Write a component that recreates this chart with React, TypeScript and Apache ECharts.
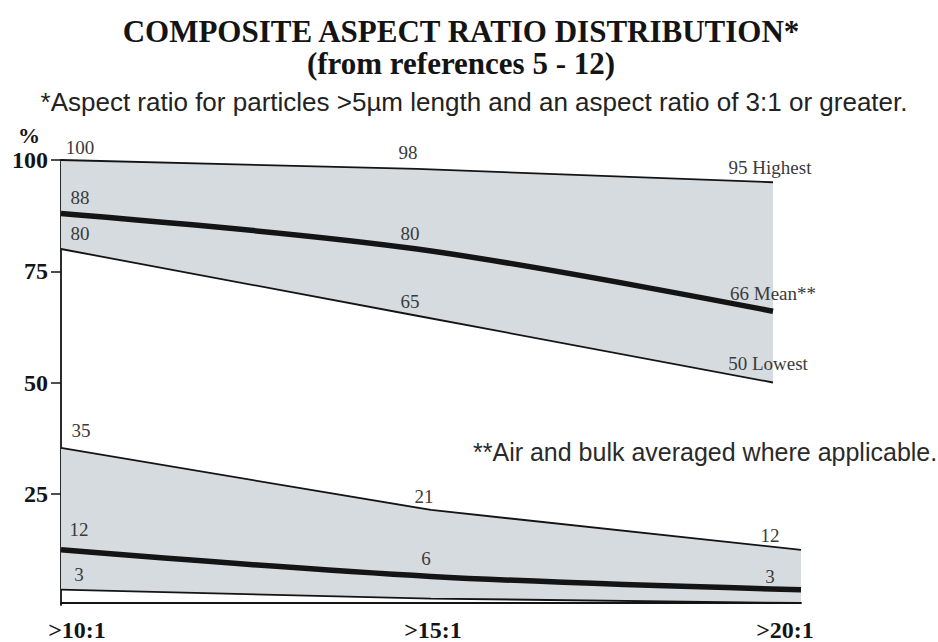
import React, { useEffect, useRef } from "react";
import * as echarts from "echarts";

const categories = [">10:1", ">15:1", ">20:1"];
const yTicks = [0, 25, 50, 75, 100];

const asbHighest = [100, 98, 95];
const asbMean = [88, 80, 66];
const asbLowest = [80, 65, 50];

const priHighest = [35, 21, 12];
const priMean = [12, 6, 3];
const priLowest = [3, 1, 0];

const asbHighestText = ["", "", " Highest"];
const asbMeanText = ["", "", " Mean**"];
const asbLowestText = ["", "", " Lowest"];
const priLowestShow = [true, false, false];

// label offsets (pixels, relative to the data point)
const asbHighOff = [[19, -13], [-9, -16], [-3, -15]];
const asbMeanOff = [[19, -16], [-7, -16], [0, -18]];
const asbLowOff = [[19, -16], [-7, -14], [-5, -19]];
const priHighOff = [[20, -17], [-7, -13], [-31, -14]];
const priMeanOff = [[18, -20], [-5, -18], [-31, -13]];
const priLowOff = [[18, -15], [0, 0], [0, 0]];

const SERIF = "'Liberation Serif', 'Times New Roman', serif";
const SANS = "'Liberation Sans', Arial, sans-serif";
const FILL = "#d6dbe0";
const INK = "#141414";
const LABEL_INK = "#3a3a3a";

function labelled(values: number[], offsets: number[][], suffix: string[], show?: boolean[]) {
  return values.map((v, i) => ({
    value: v,
    label: {
      show: show ? show[i] : true,
      offset: offsets[i],
      formatter: () => `${v}${suffix[i] || ""}`,
    },
  }));
}

const labelBase = {
  show: true,
  position: "inside",
  fontFamily: SERIF,
  fontSize: 19,
  color: LABEL_INK,
};

function group(
  idx: number,
  stack: string,
  high: number[],
  mean: number[],
  low: number[],
  highItems: any[],
  meanItems: any[],
  lowItems: any[]
) {
  const band = high.map((h, i) => h - low[i]);
  const common = { xAxisIndex: idx, yAxisIndex: idx, silent: true };
  const lineLabelled = (data: any[], width: number, smooth: number | boolean, z: number) => ({
    ...common,
    type: "line",
    data,
    smooth,
    symbol: "circle",
    symbolSize: 1,
    showSymbol: true,
    itemStyle: { color: "rgba(0,0,0,0)" },
    lineStyle: { color: INK, width },
    label: labelBase,
    z,
  });
  return [
    {
      ...common,
      type: "line",
      data: low,
      stack,
      symbol: "none",
      lineStyle: { opacity: 0 },
      z: 1,
    },
    {
      ...common,
      type: "line",
      data: band,
      stack,
      symbol: "none",
      lineStyle: { opacity: 0 },
      areaStyle: { color: FILL, opacity: 1 },
      z: 1,
    },
    lineLabelled(highItems, 1.8, false, 3),
    lineLabelled(lowItems, 1.8, false, 3),
    lineLabelled(meanItems, 5.5, 0.35, 4),
  ];
}

export default function App() {
  const ref = useRef<HTMLDivElement>(null);
  useEffect(() => {
    if (!ref.current) return;
    const chart = echarts.init(ref.current, undefined, { renderer: "svg" });
    const xLabelRich = {
      l: { fontFamily: SERIF, fontWeight: "bold", fontSize: 24, color: INK, padding: [0, 0, 0, 32] },
      m: { fontFamily: SERIF, fontWeight: "bold", fontSize: 24, color: INK, padding: [0, 0, 0, 4] },
      r: { fontFamily: SERIF, fontWeight: "bold", fontSize: 24, color: INK, padding: [0, 32, 0, 0] },
    };
    const option: any = {
      animation: false,
      backgroundColor: "#ffffff",
      title: [
        {
          text: "COMPOSITE ASPECT RATIO DISTRIBUTION*\n(from references 5 - 12)",
          left: 461,
          top: 15,
          textAlign: "center",
          padding: 0,
          textStyle: {
            fontFamily: SERIF,
            fontWeight: "bold",
            fontSize: 31,
            lineHeight: 32,
            color: INK,
          },
        },
        {
          text: "*Aspect ratio for particles >5µm length and an aspect ratio of 3:1 or greater.",
          left: 474,
          top: 89,
          textAlign: "center",
          padding: 0,
          textStyle: {
            fontFamily: SANS,
            fontWeight: "normal",
            fontSize: 26,
            lineHeight: 26,
            color: "#222",
          },
        },
      ],
      grid: [
        { left: 61, top: 160, width: 712, height: 445 },
        { left: 61, top: 160, width: 740, height: 445 },
      ],
      xAxis: [
        {
          gridIndex: 0,
          type: "category",
          data: categories,
          boundaryGap: false,
          show: false,
        },
        {
          gridIndex: 1,
          type: "category",
          data: categories,
          boundaryGap: false,
          axisLine: { show: true, lineStyle: { color: INK, width: 1.8 } },
          axisTick: { show: false },
          splitLine: { show: false },
          axisLabel: {
            interval: 0,
            margin: 15,
            formatter: (v: string, i: number) => `{${["l", "m", "r"][i]}|${v}}`,
            rich: xLabelRich,
          },
        },
      ],
      yAxis: [
        {
          gridIndex: 0,
          type: "value",
          min: yTicks[0],
          max: yTicks[yTicks.length - 1],
          interval: yTicks[1] - yTicks[0],
          name: "%",
          nameLocation: "end",
          nameGap: 14,
          nameTextStyle: {
            fontFamily: SERIF,
            fontWeight: "bold",
            fontSize: 22,
            color: INK,
            padding: [0, 64, 0, 0],
          },
          axisLine: { show: true, lineStyle: { color: INK, width: 1.8 } },
          axisTick: { show: true, length: 10, lineStyle: { color: INK, width: 1.5 } },
          splitLine: { show: false },
          axisLabel: {
            showMinLabel: false,
            margin: 13,
            fontFamily: SERIF,
            fontWeight: "bold",
            fontSize: 24,
            color: INK,
          },
        },
        {
          gridIndex: 1,
          type: "value",
          min: yTicks[0],
          max: yTicks[yTicks.length - 1],
          interval: yTicks[1] - yTicks[0],
          show: false,
          splitLine: { show: false },
        },
      ],
      graphic: [
        {
          type: "text",
          left: 478,
          top: 228,
          silent: true,
          style: { text: "Asbestiform", font: `27px ${SANS}`, fill: "#2a2a2a" },
        },
        {
          type: "text",
          left: 148,
          top: 506,
          silent: true,
          style: { text: "Prismatic", font: `27px ${SANS}`, fill: "#2a2a2a" },
        },
        {
          type: "text",
          left: 473,
          top: 439,
          silent: true,
          style: { text: "**Air and bulk averaged where applicable.", font: `25px ${SANS}`, fill: "#2a2a2a" },
        },
      ],
      series: [
        ...group(
          0,
          "asb",
          asbHighest,
          asbMean,
          asbLowest,
          labelled(asbHighest, asbHighOff, asbHighestText),
          labelled(asbMean, asbMeanOff, asbMeanText),
          labelled(asbLowest, asbLowOff, asbLowestText)
        ),
        ...group(
          1,
          "pri",
          priHighest,
          priMean,
          priLowest,
          labelled(priHighest, priHighOff, []),
          labelled(priMean, priMeanOff, []),
          labelled(priLowest, priLowOff, [], priLowestShow)
        ),
      ],
    };
    chart.setOption(option);
    return () => chart.dispose();
  }, []);
  return (
    <div
      ref={ref}
      style={{ position: "fixed", left: 0, top: 0, width: 938, height: 642, background: "#fff" }}
    />
  );
}
